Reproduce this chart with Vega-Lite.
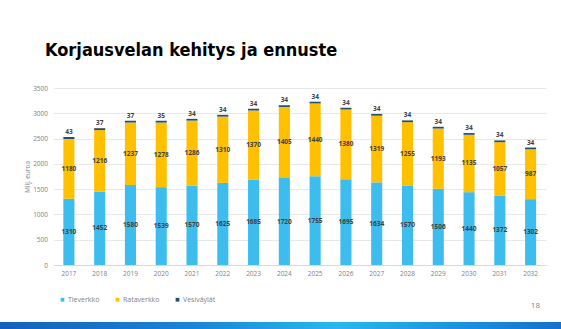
{
  "$schema": "https://vega.github.io/schema/vega-lite/v6.json",
  "background": "white",
  "padding": {"left": 0, "top": 42, "right": 0, "bottom": 0},
  "bounds": "flush",
  "spacing": 57,
  "config": {"view": {"stroke": null}},
  "title": {
    "text": "Korjausvelan kehitys ja ennuste",
    "anchor": "start",
    "frame": "bounds",
    "dx": 45,
    "offset": 11,
    "baseline": "alphabetic",
    "font": "DejaVu Sans Condensed",
    "fontSize": 18,
    "fontWeight": "bold",
    "color": "#000000"
  },
  "datasets": {
    "debt": [
      {"year": "2017", "series": "Tieverkko", "k": 1, "value": 1310},
      {"year": "2017", "series": "Rataverkko", "k": 2, "value": 1180},
      {"year": "2017", "series": "Vesiväylät", "k": 3, "value": 43},
      {"year": "2018", "series": "Tieverkko", "k": 1, "value": 1452},
      {"year": "2018", "series": "Rataverkko", "k": 2, "value": 1216},
      {"year": "2018", "series": "Vesiväylät", "k": 3, "value": 37},
      {"year": "2019", "series": "Tieverkko", "k": 1, "value": 1580},
      {"year": "2019", "series": "Rataverkko", "k": 2, "value": 1237},
      {"year": "2019", "series": "Vesiväylät", "k": 3, "value": 37},
      {"year": "2020", "series": "Tieverkko", "k": 1, "value": 1539},
      {"year": "2020", "series": "Rataverkko", "k": 2, "value": 1278},
      {"year": "2020", "series": "Vesiväylät", "k": 3, "value": 35},
      {"year": "2021", "series": "Tieverkko", "k": 1, "value": 1570},
      {"year": "2021", "series": "Rataverkko", "k": 2, "value": 1286},
      {"year": "2021", "series": "Vesiväylät", "k": 3, "value": 34},
      {"year": "2022", "series": "Tieverkko", "k": 1, "value": 1625},
      {"year": "2022", "series": "Rataverkko", "k": 2, "value": 1310},
      {"year": "2022", "series": "Vesiväylät", "k": 3, "value": 34},
      {"year": "2023", "series": "Tieverkko", "k": 1, "value": 1685},
      {"year": "2023", "series": "Rataverkko", "k": 2, "value": 1370},
      {"year": "2023", "series": "Vesiväylät", "k": 3, "value": 34},
      {"year": "2024", "series": "Tieverkko", "k": 1, "value": 1720},
      {"year": "2024", "series": "Rataverkko", "k": 2, "value": 1405},
      {"year": "2024", "series": "Vesiväylät", "k": 3, "value": 34},
      {"year": "2025", "series": "Tieverkko", "k": 1, "value": 1755},
      {"year": "2025", "series": "Rataverkko", "k": 2, "value": 1440},
      {"year": "2025", "series": "Vesiväylät", "k": 3, "value": 34},
      {"year": "2026", "series": "Tieverkko", "k": 1, "value": 1695},
      {"year": "2026", "series": "Rataverkko", "k": 2, "value": 1380},
      {"year": "2026", "series": "Vesiväylät", "k": 3, "value": 34},
      {"year": "2027", "series": "Tieverkko", "k": 1, "value": 1634},
      {"year": "2027", "series": "Rataverkko", "k": 2, "value": 1319},
      {"year": "2027", "series": "Vesiväylät", "k": 3, "value": 34},
      {"year": "2028", "series": "Tieverkko", "k": 1, "value": 1570},
      {"year": "2028", "series": "Rataverkko", "k": 2, "value": 1255},
      {"year": "2028", "series": "Vesiväylät", "k": 3, "value": 34},
      {"year": "2029", "series": "Tieverkko", "k": 1, "value": 1506},
      {"year": "2029", "series": "Rataverkko", "k": 2, "value": 1193},
      {"year": "2029", "series": "Vesiväylät", "k": 3, "value": 34},
      {"year": "2030", "series": "Tieverkko", "k": 1, "value": 1440},
      {"year": "2030", "series": "Rataverkko", "k": 2, "value": 1135},
      {"year": "2030", "series": "Vesiväylät", "k": 3, "value": 34},
      {"year": "2031", "series": "Tieverkko", "k": 1, "value": 1372},
      {"year": "2031", "series": "Rataverkko", "k": 2, "value": 1057},
      {"year": "2031", "series": "Vesiväylät", "k": 3, "value": 34},
      {"year": "2032", "series": "Tieverkko", "k": 1, "value": 1302},
      {"year": "2032", "series": "Rataverkko", "k": 2, "value": 987},
      {"year": "2032", "series": "Vesiväylät", "k": 3, "value": 34}
    ],
    "footer": [{"name": "stripe"}]
  },
  "vconcat": [
    {
      "width": 561,
      "height": 177,
      "data": {"name": "debt"},
      "transform": [
        {"stack": "value", "groupby": ["year"], "sort": [{"field": "k", "order": "ascending"}], "as": ["v0", "v1"]},
        {"calculate": "(datum.v0 + datum.v1) / 2", "as": "vmid"}
      ],
      "encoding": {
        "x": {
          "field": "year",
          "type": "nominal",
          "sort": null,
          "title": null,
          "scale": {"range": [53.5, 546], "paddingInner": 0.64, "paddingOuter": 0.32},
          "axis": {
            "labelAngle": 0,
            "labelFont": "Open Sans",
            "labelFontSize": 6.5,
            "labelColor": "#7f7f7f",
            "labelPadding": 5,
            "ticks": false,
            "domain": true,
            "domainColor": "#d9d9d9",
            "domainWidth": 1,
            "grid": false
          }
        },
        "y": {
          "field": "v1",
          "type": "quantitative",
          "scale": {"domain": [0, 3500]},
          "title": "Milj. euroa",
          "axis": {
            "values": [0, 500, 1000, 1500, 2000, 2500, 3000, 3500],
            "format": "d",
            "labelOverlap": false,
            "offset": -53.5,
            "labelFont": "Open Sans",
            "labelFontSize": 6.5,
            "labelColor": "#7f7f7f",
            "labelPadding": 6,
            "ticks": false,
            "domain": false,
            "gridColor": "#e8e8e8",
            "gridWidth": 1,
            "titleFont": "Open Sans",
            "titleFontSize": 6.5,
            "titleFontWeight": "normal",
            "titleColor": "#7f7f7f",
            "titlePadding": 2
          }
        }
      },
      "layer": [
        {
          "mark": {"type": "bar"},
          "encoding": {
            "y2": {"field": "v0"},
            "color": {
              "field": "series",
              "type": "nominal",
              "scale": {
                "domain": ["Tieverkko", "Rataverkko", "Vesiväylät"],
                "range": ["#3dbdee", "#ffc000", "#1f4e79"]
              },
              "legend": {
                "title": null,
                "orient": "none",
                "legendX": 59,
                "legendY": 208,
                "direction": "horizontal",
                "symbolType": "square",
                "symbolSize": 14,
                "symbolStrokeWidth": 0,
                "labelFont": "Open Sans",
                "labelFontSize": 7,
                "labelColor": "#7f7f7f",
                "labelOffset": 2,
                "columnPadding": 14
              }
            }
          }
        },
        {
          "transform": [{"filter": "datum.k < 3"}],
          "mark": {"type": "text", "font": "Open Sans", "fontSize": 6.5, "fontWeight": "bold", "color": "#404040", "baseline": "middle"},
          "encoding": {
            "y": {"field": "vmid", "type": "quantitative"},
            "text": {"field": "value", "type": "quantitative", "format": "d"}
          }
        },
        {
          "transform": [{"filter": "datum.k == 3"}],
          "mark": {"type": "text", "font": "Open Sans", "fontSize": 6.5, "fontWeight": "bold", "color": "#404040", "baseline": "bottom", "dy": -2},
          "encoding": {
            "text": {"field": "value", "type": "quantitative", "format": "d"}
          }
        }
      ]
    },
    {
      "width": 561,
      "height": 7,
      "data": {"name": "footer"},
      "title": {
        "text": "18",
        "anchor": "end",
        "frame": "group",
        "dx": -21,
        "offset": 6,
        "baseline": "alphabetic",
        "font": "Open Sans",
        "fontSize": 8,
        "fontWeight": "normal",
        "color": "#7f7f7f"
      },
      "mark": {
        "type": "rect",
        "fill": {
          "x1": 0, "y1": 0, "x2": 1, "y2": 0,
          "gradient": "linear",
          "stops": [
            {"offset": 0, "color": "#1560b8"},
            {"offset": 0.35, "color": "#1a86d6"},
            {"offset": 0.6, "color": "#27b8ee"},
            {"offset": 0.85, "color": "#1a8ddc"},
            {"offset": 1, "color": "#1670c8"}
          ]
        }
      },
      "encoding": {}
    }
  ]
}
